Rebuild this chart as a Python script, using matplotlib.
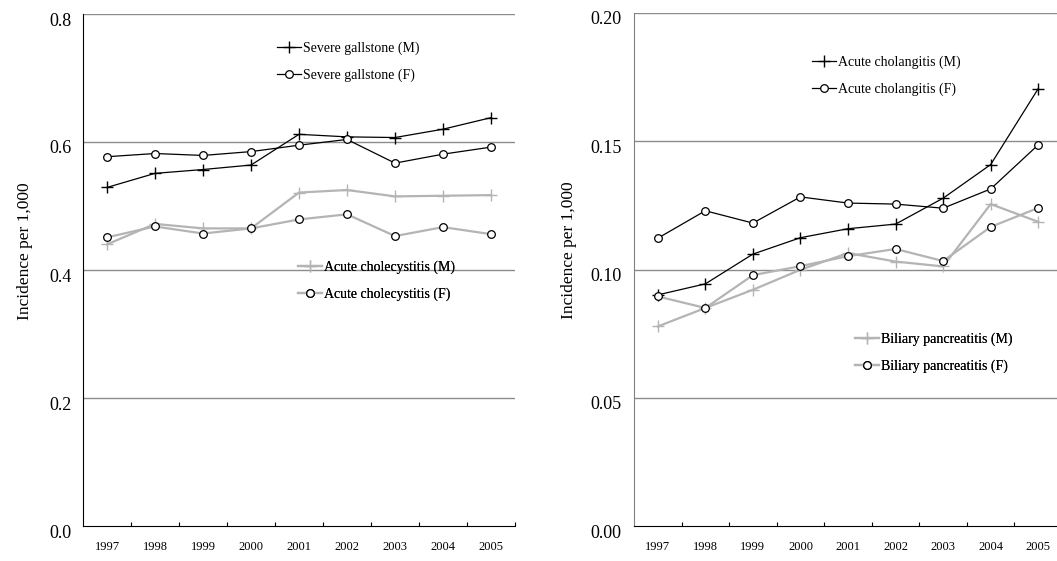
import numpy as np
import matplotlib
matplotlib.use('Agg')
import matplotlib.pyplot as plt
import matplotlib.transforms as mtransforms

plt.rcParams['font.family'] = ['Liberation Serif', 'DejaVu Serif']

years = ['1997', '1998', '1999', '2000', '2001', '2002', '2003', '2004', '2005']

# Left panel
gallstone_m = [0.529, 0.551, 0.557, 0.564, 0.612, 0.608, 0.607, 0.620, 0.638]
gallstone_f = [0.577, 0.582, 0.579, 0.585, 0.595, 0.604, 0.567, 0.581, 0.592]
cholecystitis_m = [0.440, 0.472, 0.465, 0.465, 0.521, 0.525, 0.515, 0.516, 0.517]
cholecystitis_f = [0.451, 0.468, 0.457, 0.465, 0.479, 0.487, 0.453, 0.467, 0.456]

# Right panel
cholangitis_m = [0.0901, 0.0944, 0.1060, 0.1124, 0.1159, 0.1177, 0.1278, 0.1409, 0.1705]
cholangitis_f = [0.1122, 0.1229, 0.1181, 0.1283, 0.1259, 0.1255, 0.1239, 0.1314, 0.1486]
pancreatitis_m = [0.0778, 0.0850, 0.0921, 0.0999, 0.1064, 0.1031, 0.1012, 0.1255, 0.1186]
pancreatitis_f = [0.0895, 0.0850, 0.0978, 0.1013, 0.1052, 0.1080, 0.1033, 0.1166, 0.1240]

W, H = 1057, 561
fig = plt.figure(figsize=(W / 100, H / 100), dpi=100)

ax1 = fig.add_axes([83 / W, (H - 526) / H, 432 / W, 512 / H])
ax2 = fig.add_axes([634 / W, (H - 526) / H, 428 / W, 513 / H])

x = np.arange(len(years))
grey = '#b4b4b4'
circ = dict(marker='o', markersize=5.5, markerfacecolor='white',
            markeredgecolor='black', markeredgewidth=0.9)
plus = dict(marker='+', markersize=8, markeredgewidth=1.0)


def style(ax, ymax, step, fmt, spine_col, ypad, label_x):
    ax.set_xlim(-0.5, len(years) - 0.5)
    ax.set_ylim(0, ymax)
    ax.set_yticks(np.arange(0, ymax + step / 2, step))
    ax.set_yticklabels([fmt.format(v) for v in np.arange(0, ymax + step / 2, step)])
    ax.tick_params(axis='y', length=0, pad=ypad, labelsize=13)
    # labels sit a little below their grid lines in the original
    shift = mtransforms.ScaledTranslation(0, -5 / 100, fig.dpi_scale_trans)
    for lab in ax.get_yticklabels():
        lab.set_transform(lab.get_transform() + shift)
    for v in np.arange(step, ymax + step / 2, step):
        ax.axhline(v, color='#8c8c8c', lw=1.0, zorder=0)
    ax.set_xticks(np.arange(0.5, len(years) - 0.4, 1))
    ax.set_xticklabels([])
    ax.set_xticks(x, minor=True)
    ax.set_xticklabels(years, minor=True, fontsize=9)
    ax.tick_params(axis='x', which='major', direction='in', length=3, width=0.8)
    ax.tick_params(axis='x', which='minor', length=0, pad=11)
    ax.spines['top'].set_visible(False)
    ax.spines['right'].set_visible(False)
    ax.spines['left'].set_color(spine_col)
    ax.spines['bottom'].set_color('black')
    ax.set_ylabel('Incidence per 1,000', fontsize=12.5)
    ax.yaxis.set_label_coords(label_x, 0.537)


def legend(ax, handles, px, py):
    leg = ax.legend(handles=handles, loc='center left',
                    bbox_to_anchor=(px / W, 1 - py / H), bbox_transform=fig.transFigure,
                    frameon=False, fontsize=10, handlelength=1.7, handletextpad=0.2,
                    labelspacing=1.0, borderpad=0, borderaxespad=0, numpoints=1)
    ax.add_artist(leg)


# Left panel
l1, = ax1.plot(x, gallstone_m, color='black', lw=0.9, **plus, label='Severe gallstone (M)')
l2, = ax1.plot(x, gallstone_f, color='black', lw=0.9, **circ, label='Severe gallstone (F)')
l3, = ax1.plot(x, cholecystitis_m, color=grey, lw=1.6, markeredgecolor=grey,
               marker='+', markersize=8, label='Acute cholecystitis (M)')
l4, = ax1.plot(x, cholecystitis_f, color=grey, lw=1.6, **circ, label='Acute cholecystitis (F)')
style(ax1, 0.8, 0.2, '{:.1f}', 'black', 8, -0.115)
legend(ax1, [l1, l2], 277, 62)
legend(ax1, [l3, l4], 298, 281)

# Right panel
r1, = ax2.plot(x, cholangitis_m, color='black', lw=0.9, **plus, label='Acute cholangitis (M)')
r2, = ax2.plot(x, cholangitis_f, color='black', lw=0.9, **circ, label='Acute cholangitis (F)')
r3, = ax2.plot(x, pancreatitis_m, color=grey, lw=1.6, markeredgecolor=grey,
               marker='+', markersize=8, label='Biliary pancreatitis (M)')
r4, = ax2.plot(x, pancreatitis_f, color=grey, lw=1.6, **circ, label='Biliary pancreatitis (F)')
style(ax2, 0.2, 0.05, '{:.2f}', '#808080', 9, -0.134)
legend(ax2, [r1, r2], 812, 76)
legend(ax2, [r3, r4], 855, 353)

fig.savefig('out.png', dpi=100)
